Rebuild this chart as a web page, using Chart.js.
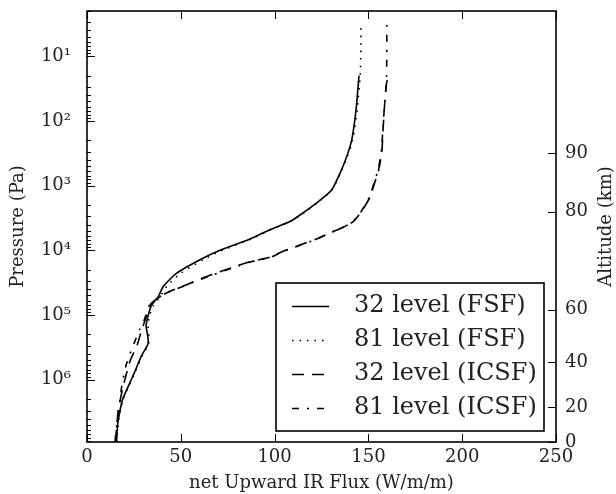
<!DOCTYPE html>
<html>
<head>
<meta charset="utf-8">
<script src="https://cdn.jsdelivr.net/npm/chart.js@4/dist/chart.umd.min.js"></script>
<style>
  html, body { margin: 0; padding: 0; background: #fff; }
  #c { display: block; }
</style>
</head>
<body>
<canvas id="c" width="616" height="494"></canvas>
<script>
// ---------- data ----------
const seriesLabels = ['32 level (FSF)', '81 level (FSF)', '32 level (ICSF)', '81 level (ICSF)'];

const fsf32Flux = [15.8, 16.0, 16.5, 17.6, 19.0, 22.0, 25.5, 29.0, 32.5, 32.5, 31.5, 32.5, 34.5, 38.0, 40.7, 47.8, 60.2, 69.1, 86.9, 97.5, 108.2, 115.5, 123.3, 130.4, 134.9, 138.4, 141.1, 143.4, 145.0];
const fsf32P    = [9.2e6, 6.5e6, 4.5e6, 3.0e6, 2.0e6, 1.27e6, 7.5e5, 4.3e5, 2.8e5, 2.2e5, 1.5e5, 1.05e5, 7.0e4, 5.2e4, 3.6e4, 2.26e4, 1.4e4, 1.05e4, 6.7e3, 4.8e3, 3.6e3, 2.6e3, 1.77e3, 1.17e3, 640, 358, 198, 68, 20];

const fsf81Flux = [15.9, 16.2, 16.8, 17.8, 19.3, 22.3, 25.8, 29.5, 32.8, 33.0, 32.6, 33.2, 35.5, 39.0, 42.5, 50.0, 62.0, 70.5, 87.5, 98.0, 108.5, 116.0, 123.5, 130.6, 135.2, 138.8, 141.6, 144.0, 145.6, 146.0, 146.0];
const fsf81P    = [9.2e6, 6.5e6, 4.5e6, 3.0e6, 2.0e6, 1.27e6, 7.5e5, 4.3e5, 2.8e5, 2.2e5, 1.5e5, 1.05e5, 7.0e4, 5.2e4, 3.6e4, 2.26e4, 1.4e4, 1.05e4, 6.7e3, 4.8e3, 3.6e3, 2.6e3, 1.77e3, 1.17e3, 640, 358, 198, 68, 20, 8, 3.3];

const icsf32Flux = [15.2, 15.5, 16.7, 19.3, 22.9, 26.5, 29.2, 31.0, 33.6, 38.9, 44.2, 53.1, 63.8, 76.2, 86.9, 97.5, 104.0, 113.5, 122.4, 129.5, 136.6, 141.9, 146.4, 150.9, 153.5, 155.3, 157.1, 157.9, 158.8, 159.8, 161.2];
const icsf32P    = [9.2e6, 7.0e6, 2.9e6, 1.27e6, 5.2e5, 3.06e5, 1.69e5, 1.2e5, 7.0e4, 5.2e4, 4.3e4, 3.4e4, 2.55e4, 1.9e4, 1.5e4, 1.28e4, 1.05e4, 8.3e3, 6.7e3, 5.4e3, 4.4e3, 3.6e3, 2.5e3, 1.5e3, 870, 600, 314, 123, 48, 25, 20];

const icsf81Flux = [15.0, 15.3, 15.8, 17.6, 18.5, 20.8, 25.2, 28.0, 30.5, 33.5, 39.0, 44.5, 53.5, 64.5, 77.0, 87.5, 98.0, 104.5, 113.8, 122.6, 129.6, 136.6, 141.8, 146.2, 150.6, 153.2, 155.0, 156.8, 157.8, 158.8, 159.6, 159.8, 159.8];
const icsf81P    = [9.2e6, 7.0e6, 5.2e6, 2.1e6, 1.27e6, 6.0e5, 2.7e5, 1.69e5, 1.2e5, 7.0e4, 5.2e4, 4.3e4, 3.4e4, 2.55e4, 1.9e4, 1.5e4, 1.28e4, 1.05e4, 8.3e3, 6.7e3, 5.4e3, 4.4e3, 3.6e3, 2.5e3, 1.5e3, 870, 600, 314, 123, 48, 25, 10, 3.3];

const xTickValues = [0, 50, 100, 150, 200, 250];
const pressureTickValues = [1e1, 1e2, 1e3, 1e4, 1e5, 1e6];
const altitudeLabels = [0, 20, 40, 60, 80, 90];
const altitudePressures = [9.2e6, 2.64e6, 5.41e5, 8.3e4, 2.53e3, 318];

// ---------- helpers ----------
const FONT = "'DejaVu Serif', 'Liberation Serif', serif";
const SUP = {'0':'⁰','1':'¹','2':'²','3':'³','4':'⁴','5':'⁵','6':'⁶','7':'⁷','8':'⁸','9':'⁹','-':'⁻'};
function powLabel(v) {
  const e = Math.round(Math.log10(v));
  return '10' + String(e).split('').map(c => SUP[c]).join('');
}
function pts(xs, ys) { return xs.map((x, i) => ({x: x, y: ys[i]})); }

const styles = [
  {borderDash: [], borderWidth: 1.6},
  {borderDash: [1.5, 6], borderWidth: 1.6},
  {borderDash: [12, 8], borderWidth: 1.6},
  {borderDash: [7, 8, 2, 8], borderWidth: 1.6}
];
const seriesData = [pts(fsf32Flux, fsf32P), pts(fsf81Flux, fsf81P), pts(icsf32Flux, icsf32P), pts(icsf81Flux, icsf81P)];

const datasets = seriesData.map((d, i) => ({
  label: seriesLabels[i],
  data: d,
  showLine: true,
  fill: false,
  borderColor: '#000',
  backgroundColor: '#000',
  borderWidth: styles[i].borderWidth,
  borderDash: styles[i].borderDash,
  pointRadius: 0,
  tension: 0.2,
  yAxisID: 'y'
}));

function noPad(s) { s.paddingTop = 0; s.paddingBottom = 0; s.paddingLeft = 0; s.paddingRight = 0; }

// ---------- custom frame / ticks / legend plugin ----------
const decoPlugin = {
  id: 'deco',
  afterDraw(chart) {
    const ctx = chart.ctx;
    const a = chart.chartArea;
    const sx = chart.scales.x, sy = chart.scales.y, sy2 = chart.scales.y2;
    ctx.save();
    ctx.strokeStyle = '#000';
    ctx.lineWidth = 1;
    const line = (x1, y1, x2, y2) => { ctx.beginPath(); ctx.moveTo(x1, y1); ctx.lineTo(x2, y2); ctx.stroke(); };
    // x ticks, bottom and top, inward
    xTickValues.forEach(v => {
      const px = Math.round(sx.getPixelForValue(v)) + 0.5;
      line(px, a.bottom, px, a.bottom - 8);
      line(px, a.top, px, a.top + 8);
    });
    // left log ticks (major + minor), inward
    const yMin = sy.min, yMax = sy.max;
    for (let e = 0; e <= 7; e++) {
      for (let k = 1; k <= 9; k++) {
        const v = k * Math.pow(10, e);
        if (v < yMin || v > yMax) continue;
        const py = Math.round(sy.getPixelForValue(v)) + 0.5;
        line(a.left, py, a.left + (k === 1 ? 8 : 4), py);
      }
    }
    // right altitude ticks, inward
    altitudePressures.forEach(v => {
      const py = Math.round(sy2.getPixelForValue(v)) + 0.5;
      line(a.right, py, a.right - 8, py);
    });
    // frame
    ctx.lineWidth = 1.6;
    ctx.strokeRect(a.left, a.top, a.right - a.left, a.bottom - a.top);

    // right axis title (reads bottom to top)
    ctx.fillStyle = '#222';
    ctx.font = "18px " + FONT;
    ctx.textAlign = 'center';
    ctx.textBaseline = 'middle';
    ctx.save();
    ctx.translate(606, (a.top + a.bottom) / 2);
    ctx.rotate(-Math.PI / 2);
    ctx.fillText('Altitude (km)', 0, 0);
    ctx.restore();

    // legend box
    const bx = 276, by = 283, bw = 268, bh = 148;
    ctx.fillStyle = '#fff';
    ctx.fillRect(bx, by, bw, bh);
    ctx.lineWidth = 1.6;
    ctx.strokeStyle = '#000';
    ctx.strokeRect(bx, by, bw, bh);
    const rowY = [306, 340, 374, 408];
    chart.data.datasets.forEach((ds, i) => {
      const y = rowY[i] + 0.5;
      ctx.save();
      ctx.lineWidth = ds.borderWidth;
      ctx.setLineDash(ds.borderDash);
      ctx.beginPath();
      ctx.moveTo(292, y);
      ctx.lineTo(329, y);
      ctx.stroke();
      ctx.restore();
      ctx.fillStyle = '#222';
      ctx.font = "24px " + FONT;
      ctx.textAlign = 'left';
      ctx.textBaseline = 'middle';
      ctx.fillText(ds.label, 354, rowY[i]);
    });
    ctx.restore();
  }
};

new Chart(document.getElementById('c'), {
  type: 'scatter',
  data: { datasets: datasets },
  options: {
    responsive: false,
    animation: false,
    devicePixelRatio: 1,
    layout: { padding: { top: 11, left: 0, right: 0, bottom: 0 } },
    plugins: {
      legend: { display: false },
      tooltip: { enabled: false }
    },
    scales: {
      x: {
        type: 'linear',
        position: 'bottom',
        min: 0, max: 250,
        afterBuildTicks: s => { s.ticks = xTickValues.map(v => ({value: v})); },
        ticks: { font: { family: FONT, size: 18 }, color: '#222', padding: 5, autoSkip: false, maxRotation: 0 },
        grid: { display: false, drawTicks: false },
        border: { display: false },
        title: { display: true, text: 'net Upward IR Flux (W/m/m)', font: { family: FONT, size: 18 }, color: '#222', padding: { top: 0, bottom: 0 } },
        afterFit: s => { s.height = 52; noPad(s); }
      },
      y: {
        type: 'logarithmic',
        position: 'left',
        min: 2, max: 9.2e6,
        reverse: true,
        afterBuildTicks: s => { s.ticks = pressureTickValues.map(v => ({value: v})); },
        ticks: { font: { family: FONT, size: 18 }, color: '#222', padding: 16, autoSkip: false, callback: v => powLabel(v) },
        grid: { display: false, drawTicks: false },
        border: { display: false },
        title: { display: true, text: 'Pressure (Pa)', font: { family: FONT, size: 18 }, color: '#222', padding: { top: 8, bottom: 0 } },
        afterFit: s => { s.width = 87; noPad(s); }
      },
      y2: {
        type: 'logarithmic',
        position: 'right',
        min: 2, max: 9.2e6,
        reverse: true,
        afterBuildTicks: s => { s.ticks = altitudePressures.map(v => ({value: v})); },
        ticks: {
          font: { family: FONT, size: 18 }, color: '#222', padding: 9, autoSkip: false,
          callback: v => { const i = altitudePressures.indexOf(v); return i >= 0 ? String(altitudeLabels[i]) : ''; }
        },
        grid: { display: false, drawTicks: false },
        border: { display: false },
        title: { display: false },
        afterFit: s => { s.width = 60; noPad(s); }
      }
    }
  },
  plugins: [decoPlugin]
});
</script>
</body>
</html>
